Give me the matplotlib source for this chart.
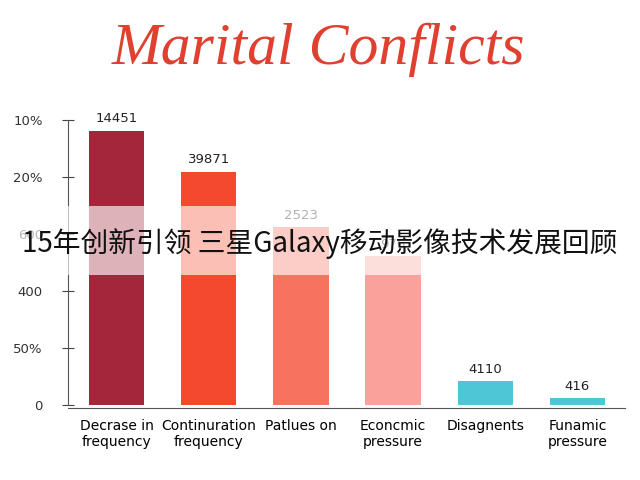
import matplotlib
matplotlib.use("Agg")
import matplotlib.pyplot as plt
from matplotlib.patches import Rectangle

categories = ["Decrase in\nfrequency", "Continuration\nfrequency", "Patlues on",
              "Econcmic\npressure", "Disagnents", "Funamic\npressure"]
heights = [4.81, 4.09, 3.12, 2.61, 0.42, 0.12]
bar_labels = ["14451", "39871", "2523", "976", "4110", "416"]
colors = ["#A3263A", "#F5492F", "#F7735F", "#F9A19A", "#4FC6D6", "#4FC6D6"]
ytick_pos = [0, 1, 2, 3, 4, 5]
ytick_labels = ["0", "50%", "400", "600", "20%", "10%"]
title = "Marital Conflicts"
caption = "15年创新引领 三星Galaxy移动影像技术发展回顾"

fig = plt.figure(figsize=(6.4, 4.8), dpi=100)
ax = fig.add_axes([0.106, 0.156, 0.871, 0.594])
x = list(range(len(categories)))
bars = ax.bar(x, heights, width=0.6, color=colors)
for b, lab in zip(bars, bar_labels):
    ax.annotate(lab, (b.get_x() + b.get_width() / 2, b.get_height()),
                xytext=(0, 4), textcoords="offset points", ha="center", va="bottom",
                fontsize=9.5, color="#222222")
ax.set_xlim(-0.53, 5.52)
ax.set_ylim(0, 5)
ax.set_xticks(x)
ax.set_xticklabels(categories, fontsize=9.5, color="#333333", linespacing=1.5)
ax.set_yticks(ytick_pos)
ax.set_yticklabels(ytick_labels, fontsize=9.5, color="#333333")
ax.tick_params(axis="y", direction="inout", length=8, pad=14, color="#444444")
ax.tick_params(axis="x", length=0, pad=8)
for s in ["top", "right"]:
    ax.spines[s].set_visible(False)
ax.spines["left"].set_color("#555555")
ax.spines["bottom"].set_color("#555555")
ax.spines["bottom"].set_position(("outward", 2))

fig.text(0.497, 0.897, title, ha="center", va="center", fontsize=43,
         family="Liberation Serif", style="italic", color="#E0402F")

fig.patches.append(Rectangle((0, 0.427), 1, 0.144, transform=fig.transFigure,
                             facecolor="white", alpha=0.65, edgecolor="none", zorder=5))
fig.text(0.5, 0.493, caption, ha="center", va="center", fontsize=20,
         family=["Noto Sans CJK SC", "DejaVu Sans"], color="#111111", zorder=6)

fig.savefig("out.png", dpi=100, facecolor="white")
